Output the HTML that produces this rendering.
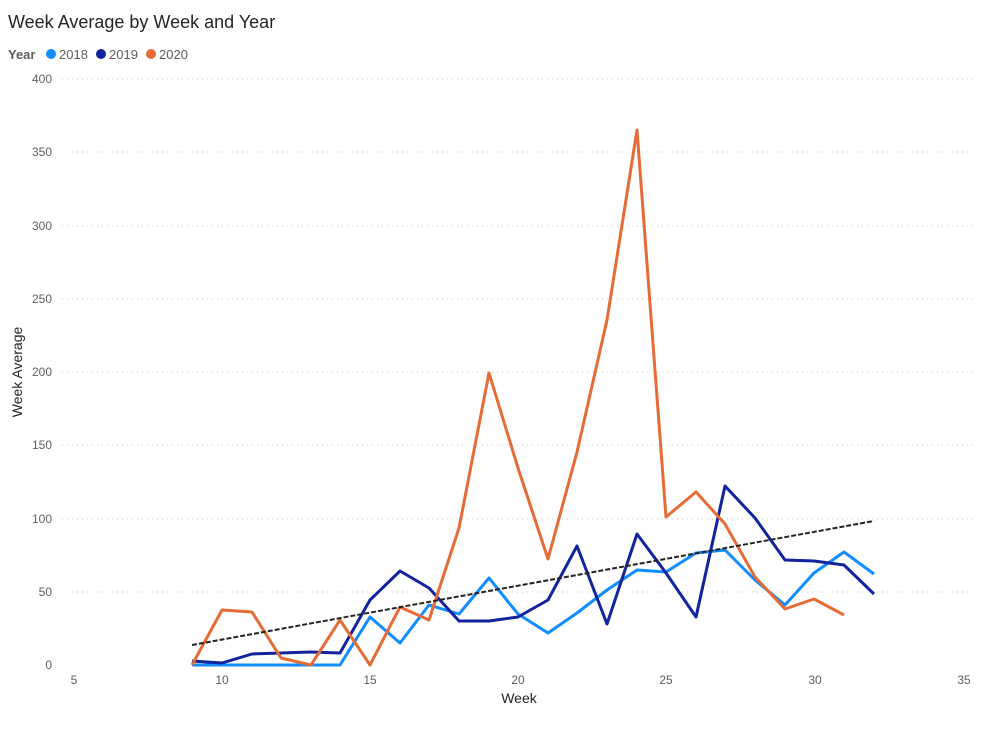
<!DOCTYPE html>
<html><head><style>
body{margin:0;background:#fff;font-family:"Liberation Sans",sans-serif;}
</style></head><body>
<svg width="982" height="729" xmlns="http://www.w3.org/2000/svg" font-family="Liberation Sans, sans-serif">
<text x="8" y="28" font-size="18" fill="#252423">Week Average by Week and Year</text>
<text x="8" y="59" font-size="13" font-weight="bold" fill="#605e5c">Year</text>
<circle cx="51" cy="54" r="5" fill="#118DFF"/><text x="59" y="59" font-size="13" fill="#605e5c">2018</text>
<circle cx="101" cy="54" r="5" fill="#12239E"/><text x="109" y="59" font-size="13" fill="#605e5c">2019</text>
<circle cx="151" cy="54" r="5" fill="#E66C37"/><text x="159" y="59" font-size="13" fill="#605e5c">2020</text>
<g stroke="#c8c6c4" stroke-width="1" stroke-dasharray="1,4">
<line x1="62" x2="975" y1="592" y2="592"/><line x1="62" x2="975" y1="519" y2="519"/><line x1="62" x2="975" y1="445" y2="445"/><line x1="62" x2="975" y1="372" y2="372"/><line x1="62" x2="975" y1="299" y2="299"/><line x1="62" x2="975" y1="226" y2="226"/><line x1="62" x2="975" y1="152" y2="152"/><line x1="62" x2="975" y1="79" y2="79"/>
</g>
<g font-size="12" fill="#605e5c" text-anchor="end">
<text x="52" y="669">0</text><text x="52" y="596">50</text><text x="52" y="523">100</text><text x="52" y="449">150</text><text x="52" y="376">200</text><text x="52" y="303">250</text><text x="52" y="230">300</text><text x="52" y="156">350</text><text x="52" y="83">400</text>
</g>
<g font-size="12" fill="#605e5c" text-anchor="middle">
<text x="74" y="684">5</text><text x="222" y="684">10</text><text x="370" y="684">15</text><text x="518" y="684">20</text><text x="666" y="684">25</text><text x="815" y="684">30</text><text x="964" y="684">35</text>
</g>
<text x="519" y="703" font-size="14" fill="#252423" text-anchor="middle">Week</text>
<text transform="translate(22,372) rotate(-90)" font-size="14" fill="#252423" text-anchor="middle">Week Average</text>
<g fill="none" stroke-width="3" stroke-linejoin="round">
<polyline stroke="#118DFF" points="192,665 222,665 252,665 281,665 311,665 340,665 370,617 400,643 429,605 459,614 489,578 518,614 548,633 577,613 607,590 637,570 666,572 696,553 725,550 755,580 785,605 814,573 844,552 874,574"/>
<polyline stroke="#12239E" points="192,661 222,663 252,654 281,653 311,652 340,653 370,600 400,571 429,588 459,621 489,621 518,617 548,600 577,546 607,624 637,534 666,573 696,617 725,486 755,518 785,560 814,561 844,565 874,594"/>
<polyline stroke="#E66C37" points="192,665 222,610 252,612 281,658 311,665 340,620 370,665 400,607 429,620 459,528 489,373 518,468 548,559 577,452 607,320 637,130 666,517 696,492 725,524 755,577 785,609 814,599 844,615"/>
</g>
<line x1="192" y1="645" x2="874" y2="521" stroke="#252423" stroke-width="2" stroke-dasharray="5,2"/>
</svg>
</body></html>
